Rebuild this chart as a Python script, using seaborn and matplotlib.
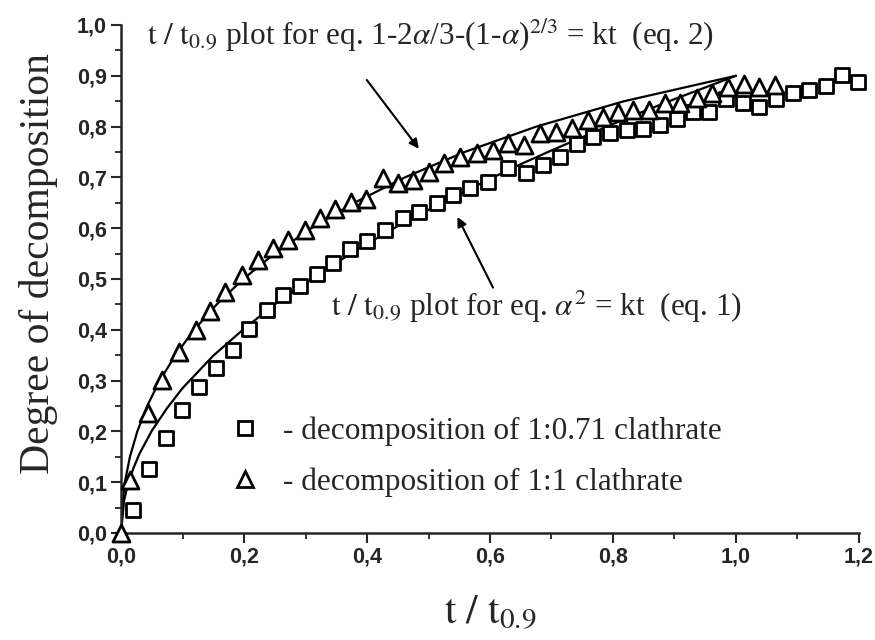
# decomposition of clathrates vs reduced time t / t0.9

import matplotlib
matplotlib.use('Agg')
import matplotlib.pyplot as plt
import matplotlib.ticker as mticker
from matplotlib.lines import Line2D
import pandas as pd
import seaborn as sns

# 1:0.71 clathrate (squares)
t_sq = [0.02, 0.046, 0.073, 0.099, 0.127, 0.154, 0.182, 0.208, 0.237, 0.263,
        0.291, 0.319, 0.345, 0.372, 0.400, 0.429, 0.459, 0.485, 0.514, 0.540,
        0.567, 0.597, 0.629, 0.659, 0.686, 0.714, 0.741, 0.767, 0.795, 0.823,
        0.849, 0.876, 0.904, 0.930, 0.956, 0.984, 1.011, 1.037, 1.065, 1.093,
        1.119, 1.146, 1.172, 1.198]
a_sq = [0.045, 0.126, 0.187, 0.242, 0.287, 0.325, 0.360, 0.402, 0.439, 0.469,
        0.486, 0.510, 0.531, 0.559, 0.575, 0.596, 0.620, 0.632, 0.650, 0.665,
        0.679, 0.691, 0.719, 0.709, 0.724, 0.740, 0.766, 0.780, 0.787, 0.793,
        0.795, 0.803, 0.815, 0.829, 0.829, 0.854, 0.846, 0.839, 0.854, 0.866,
        0.872, 0.880, 0.902, 0.888]

# 1:1 clathrate (triangles)
t_tr = [0.0, 0.015, 0.044, 0.067, 0.094, 0.122, 0.145, 0.169, 0.197, 0.223,
        0.247, 0.272, 0.299, 0.324, 0.348, 0.374, 0.398, 0.426, 0.450, 0.475,
        0.500, 0.525, 0.551, 0.579, 0.605, 0.629, 0.655, 0.681, 0.707, 0.733,
        0.759, 0.784, 0.808, 0.833, 0.859, 0.885, 0.909, 0.937, 0.961, 0.987,
        1.013, 1.037, 1.063]
a_tr = [0.0, 0.104, 0.236, 0.301, 0.356, 0.400, 0.437, 0.474, 0.508, 0.537,
        0.561, 0.577, 0.596, 0.620, 0.638, 0.652, 0.657, 0.699, 0.689, 0.695,
        0.711, 0.728, 0.740, 0.748, 0.754, 0.768, 0.764, 0.787, 0.789, 0.797,
        0.813, 0.819, 0.829, 0.833, 0.833, 0.846, 0.846, 0.856, 0.866, 0.878,
        0.884, 0.878, 0.882]

# fitted curve, eq. 1 (alpha^2 = kt)
t_eq1 = [0.0, 0.005, 0.01, 0.02, 0.03, 0.05, 0.075, 0.1, 0.15, 0.2, 0.25, 0.3,
         0.35, 0.4, 0.45, 0.5, 0.55, 0.6, 0.65, 0.7, 0.75, 0.8, 0.85, 0.9,
         0.95, 1.0]
a_eq1 = [0.0, 0.064, 0.090, 0.127, 0.156, 0.201, 0.246, 0.285, 0.349, 0.402,
         0.450, 0.493, 0.532, 0.569, 0.604, 0.636, 0.667, 0.697, 0.726, 0.753,
         0.779, 0.805, 0.830, 0.854, 0.877, 0.900]

# fitted curve, eq. 2 (1-2a/3-(1-a)^2/3 = kt)
t_eq2 = [0.0, 0.0015, 0.0063, 0.0145, 0.0265, 0.0425, 0.063, 0.0884, 0.1189,
         0.1556, 0.1989, 0.2497, 0.3095, 0.3794, 0.4616, 0.5589, 0.6755,
         0.8183, 1.0]
a_eq2 = [0.0, 0.05, 0.10, 0.15, 0.20, 0.25, 0.30, 0.35, 0.40, 0.45, 0.50, 0.55,
         0.60, 0.65, 0.70, 0.75, 0.80, 0.85, 0.90]

sns.set_style('ticks')
plt.rcParams['font.family'] = ['Liberation Serif', 'DejaVu Serif']
plt.rcParams['mathtext.fontset'] = 'stix'

fig = plt.figure(figsize=(8.75, 6.4), dpi=100)
ax = fig.add_axes([0.1383, 0.1672, 0.8434, 0.7938])

df1 = pd.DataFrame({'t': t_eq1, 'a': a_eq1})
df2 = pd.DataFrame({'t': t_eq2, 'a': a_eq2})
sns.lineplot(data=df1, x='t', y='a', ax=ax, color='black', lw=1.6, sort=False)
sns.lineplot(data=df2, x='t', y='a', ax=ax, color='black', lw=1.6, sort=False)

dsq = pd.DataFrame({'t': t_sq, 'a': a_sq})
dtr = pd.DataFrame({'t': t_tr, 'a': a_tr})
sns.scatterplot(data=dsq, x='t', y='a', ax=ax, marker='s', s=110,
                facecolor='white', edgecolor='black', linewidth=2.0,
                zorder=3, clip_on=False)
sns.scatterplot(data=dtr, x='t', y='a', ax=ax, marker='^', s=150,
                facecolor='white', edgecolor='black', linewidth=2.0,
                zorder=3, clip_on=False)

ax.set_xlim(0, 1.2)
ax.set_ylim(0, 1.0)
ax.xaxis.set_major_locator(mticker.MultipleLocator(0.2))
ax.xaxis.set_minor_locator(mticker.MultipleLocator(0.1))
ax.yaxis.set_major_locator(mticker.MultipleLocator(0.1))
ax.yaxis.set_minor_locator(mticker.MultipleLocator(0.05))
fmt = mticker.FuncFormatter(lambda v, p: f'{v:.1f}'.replace('.', ','))
ax.xaxis.set_major_formatter(fmt)
ax.yaxis.set_major_formatter(fmt)
ax.tick_params(which='major', length=7, width=1.5, direction='out',
               labelsize=15.5, pad=3)
ax.tick_params(which='minor', length=4, width=1.3, direction='out')
for lab in ax.get_xticklabels() + ax.get_yticklabels():
    lab.set_fontfamily('Liberation Sans')
    lab.set_fontweight('bold')
sns.despine(ax=ax)
for sp in ['left', 'bottom']:
    ax.spines[sp].set_linewidth(1.8)

ax.set_xlabel(r'$\mathrm{t\ /\ t_{0.9}}$', fontsize=30, labelpad=18)
ax.set_ylabel('Degree of decomposition', fontsize=30, labelpad=10)
ax.yaxis.set_label_coords(-0.086, 0.53)

ax.text(0.035, 0.961,
        r'$\mathrm{t\ /\ t_{0.9}}$ plot for eq. 1-2$\alpha$/3-(1-$\alpha$)$^{2/3}$ = kt  (eq. 2)',
        transform=ax.transAxes, fontsize=22.5, va='baseline')
ax.text(0.285, 0.428,
        r'$\mathrm{t\ /\ t_{0.9}}$ plot for eq. $\alpha^2$ = kt  (eq. 1)',
        transform=ax.transAxes, fontsize=22.5, va='baseline')

ax.annotate('', xy=(0.487, 0.752), xytext=(0.397, 0.896),
            arrowprops=dict(arrowstyle='-|>', color='black', lw=1.5,
                            mutation_scale=14))
ax.annotate('', xy=(0.545, 0.627), xytext=(0.607, 0.478),
            arrowprops=dict(arrowstyle='-|>', color='black', lw=1.5,
                            mutation_scale=14))

handles = [
    Line2D([], [], ls='none', marker='s', ms=10, mfc='white', mec='black', mew=2.0),
    Line2D([], [], ls='none', marker='^', ms=12, mfc='white', mec='black', mew=2.0),
]
ax.legend(handles, ['- decomposition of 1:0.71 clathrate',
                    '- decomposition of 1:1 clathrate'],
          loc='center left', bbox_to_anchor=(0.262, 0.286),
          bbox_transform=fig.transFigure, frameon=False, fontsize=22.5,
          handlelength=1.0, handletextpad=0.72, labelspacing=0.69,
          borderpad=0, borderaxespad=0)

fig.savefig('out.png', dpi=100)
